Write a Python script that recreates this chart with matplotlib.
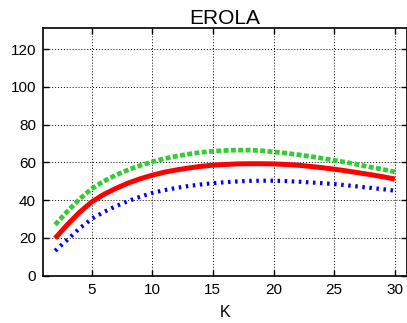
import matplotlib
matplotlib.use("Agg")
import matplotlib.pyplot as plt

K = list(range(2, 31))
red = [19.8, 27, 33.5, 39, 43, 46.2, 49, 51.3, 53.2, 54.8, 56, 57, 57.9, 58.5, 58.9, 59.2, 59.3, 59.3, 59.2, 58.9, 58.5, 57.9, 57.2, 56.4, 55.5, 54.5, 53.5, 52.4, 51.2]
green = [27, 34, 40.5, 46, 50, 53.3, 56, 58.3, 60.3, 62, 63.3, 64.4, 65.3, 65.9, 66.3, 66.5, 66.5, 66.2, 65.6, 64.9, 64.1, 63.2, 62.2, 61.1, 60, 58.8, 57.5, 56.3, 55]
blue = [13.2, 19, 25, 30, 33.7, 36.8, 39.5, 41.8, 43.8, 45.3, 46.5, 47.5, 48.3, 49, 49.5, 49.9, 50.2, 50.3, 50.3, 50.1, 49.8, 49.4, 49, 48.5, 47.9, 47.2, 46.5, 45.8, 45]
xticks = [5, 10, 15, 20, 25, 30]
yticks = [0, 20, 40, 60, 80, 100, 120]

plt.rcParams['font.family'] = ['Liberation Sans', 'DejaVu Sans']
fig = plt.figure(figsize=(4.07, 3.23), dpi=100)
ax = fig.add_axes([43/407, 1 - 275.7/323, (407-43)/407, (275.7-28.3)/323])
ax.plot(K, green, color='#33cc33', lw=3.4, linestyle=(0, (1.05, 0.5)),
        dash_capstyle='butt', dash_joinstyle='round')
ax.plot(K, blue, color='#0000ff', lw=3.0, linestyle=(0, (0.6, 1.1)),
        dash_capstyle='butt', dash_joinstyle='round')
ax.plot(K, red, color='#ff0000', lw=3.6, solid_capstyle='butt', solid_joinstyle='round')
ax.set_xlim(1, 31)
ax.set_ylim(0, 131)
ax.set_xticks(xticks)
ax.set_yticks(yticks)
ax.grid(True, color='black', linestyle=(0, (1, 2)), lw=0.7)
ax.tick_params(direction='in', top=True, right=True, labelsize=11, length=4, width=1,
               colors='black', pad=5)
for s in ax.spines.values():
    s.set_linewidth(1.2)
ax.set_title('EROLA', fontsize=15, pad=3)
ax.set_xlabel('K', fontsize=11.5, labelpad=6)
fig.savefig('out.png', dpi=100)
